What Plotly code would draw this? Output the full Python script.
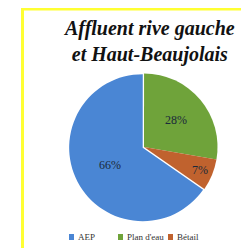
import plotly.graph_objects as go

labels = ["AEP", "Plan d'eau", "Bétail"]
values = [66, 28, 7]
pct_text = ["66%", "28%", "7%"]
colors = ["#4a86d4", "#6fa33a", "#c0622e"]
title_lines = ["Affluent rive gauche", "et Haut-Beaujolais"]

W, H = 249, 248

fig = go.Figure()
fig.add_trace(go.Pie(
    labels=labels, values=values, text=pct_text,
    textinfo="text", textposition="inside", insidetextorientation="horizontal",
    textfont=dict(family="Liberation Serif", size=12, color="#1a2a3a"),
    marker=dict(colors=colors, line=dict(color="white", width=0)),
    sort=False, direction="clockwise", rotation=124.8,
    pull=[0.02, 0, 0],
    domain=dict(x=[(136 - 80) / W, (136 + 80) / W], y=[1 - 214 / H, 1 - 64 / H]),
    showlegend=False,
))

# custom compact legend (symbol squares + labels)
leg_x = [61, 110, 160]
leg_y = 229
shapes = [
    dict(type="rect", xref="paper", yref="paper", x0=13 / W, x1=16 / W, y0=0, y1=1,
         fillcolor="#ffff33", line=dict(width=0)),
    dict(type="rect", xref="paper", yref="paper", x0=13 / W, x1=1, y0=1 - 2.5 / H, y1=1,
         fillcolor="#ffff33", line=dict(width=0)),
    dict(type="rect", xref="paper", yref="paper", x0=13 / W, x1=1, y0=0, y1=4 / H,
         fillcolor="#ffff33", line=dict(width=0)),
]
annotations = [dict(
    text="<b><i>" + "<br>".join(title_lines) + "</i></b>",
    xref="paper", yref="paper", x=141 / W, y=1 - 33 / H, xanchor="center", yanchor="middle",
    showarrow=False, font=dict(family="Liberation Serif", size=20, color="#111"),
)]
for lx, lab, col in zip(leg_x, labels, colors):
    shapes.append(dict(type="rect", xref="paper", yref="paper",
                       x0=lx / W, x1=(lx + 5) / W, y0=1 - (leg_y + 3) / H, y1=1 - (leg_y - 3) / H,
                       fillcolor=col, line=dict(width=0)))
    annotations.append(dict(text=lab, xref="paper", yref="paper", x=(lx + 7) / W, y=1 - leg_y / H,
                            xanchor="left", yanchor="middle", showarrow=False,
                            font=dict(family="Liberation Serif", size=9, color="#333")))

fig.update_layout(
    width=W, height=H,
    margin=dict(l=0, r=0, t=0, b=0),
    paper_bgcolor="white", plot_bgcolor="white",
    font=dict(family="Liberation Serif", color="#222"),
    showlegend=False,
    shapes=shapes,
    annotations=annotations,
)

fig.write_html("out.html")
